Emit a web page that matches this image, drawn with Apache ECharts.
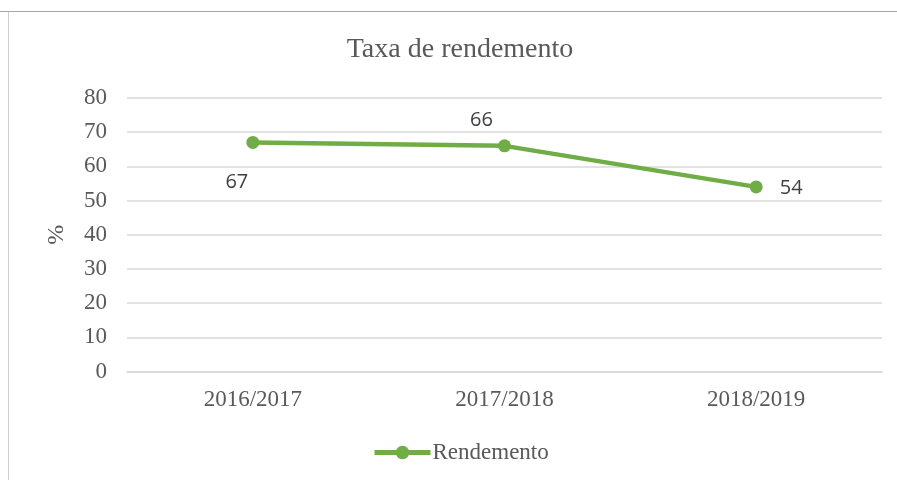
<!DOCTYPE html>
<html>
<head>
<meta charset="utf-8">
<script src="https://cdn.jsdelivr.net/npm/echarts@6/dist/echarts.min.js"></script>
<style>
  html, body { margin: 0; padding: 0; background: #fff; }
  #chart { position: absolute; left: 0; top: 0; width: 897px; height: 480px; }
  #topLine { position: absolute; left: 0; top: 11px; width: 897px; height: 1px; background: #a6a6a6; }
  #leftLine { position: absolute; left: 8px; top: 12px; width: 1px; height: 468px; background: #d0d0d0; }
</style>
</head>
<body>
<div id="chart"></div>
<div id="topLine"></div>
<div id="leftLine"></div>
<script>
const categories = ['2016/2017', '2017/2018', '2018/2019'];
const rendemento = [67, 66, 54];
// deslocamento de cada rótulo em relação ao ponto
const labelOffsets = [[-16, 40], [-23, -26], [35, 1]];

const serif = '"Liberation Serif", "DejaVu Serif", serif';
const green = '#70ad47';

const chart = echarts.init(document.getElementById('chart'));

chart.setOption({
  animation: false,
  title: {
    text: 'Taxa de rendemento',
    left: 460,
    textAlign: 'center',
    top: 36,
    padding: 0,
    textStyle: { fontFamily: serif, fontSize: 28, fontWeight: 'normal', color: '#595959' }
  },
  legend: {
    data: ['Rendemento'],
    left: 372,
    top: 441,
    padding: 0,
    itemWidth: 56,
    itemHeight: 17,
    itemGap: 10,
    lineStyle: { width: 5 },
    textStyle: { fontFamily: serif, fontSize: 23, color: '#595959', padding: [0, 0, 0, -3] }
  },
  grid: { left: 127, right: 15, top: 98, bottom: 108.5, containLabel: false },
  xAxis: {
    type: 'category',
    data: categories,
    boundaryGap: true,
    axisLine: { show: true, lineStyle: { color: '#d9d9d9', width: 1.5 } },
    axisTick: { show: false },
    axisLabel: { margin: 17, fontFamily: serif, fontSize: 23, color: '#595959' },
    splitLine: { show: false }
  },
  yAxis: {
    type: 'value',
    min: 0,
    max: 80,
    interval: 10,
    name: '%',
    nameLocation: 'middle',
    nameRotate: 90,
    nameGap: 58,
    nameTextStyle: { fontFamily: serif, fontSize: 24, color: '#595959' },
    axisLine: { show: false },
    axisTick: { show: false },
    axisLabel: { margin: 20, fontFamily: serif, fontSize: 23, color: '#595959' },
    splitLine: { lineStyle: { color: '#d9d9d9', width: 1.5 } }
  },
  series: [{
    name: 'Rendemento',
    type: 'line',
    data: rendemento.map((v, i) => ({
      value: v,
      label: { offset: labelOffsets[i] }
    })),
    symbol: 'circle',
    symbolSize: 13,
    lineStyle: { color: green, width: 4.5 },
    itemStyle: { color: green },
    label: {
      show: true,
      position: 'inside',
      fontFamily: '"Open Sans", "Noto Sans", sans-serif',
      fontSize: 20,
      color: '#404040'
    }
  }]
});
</script>
</body>
</html>
